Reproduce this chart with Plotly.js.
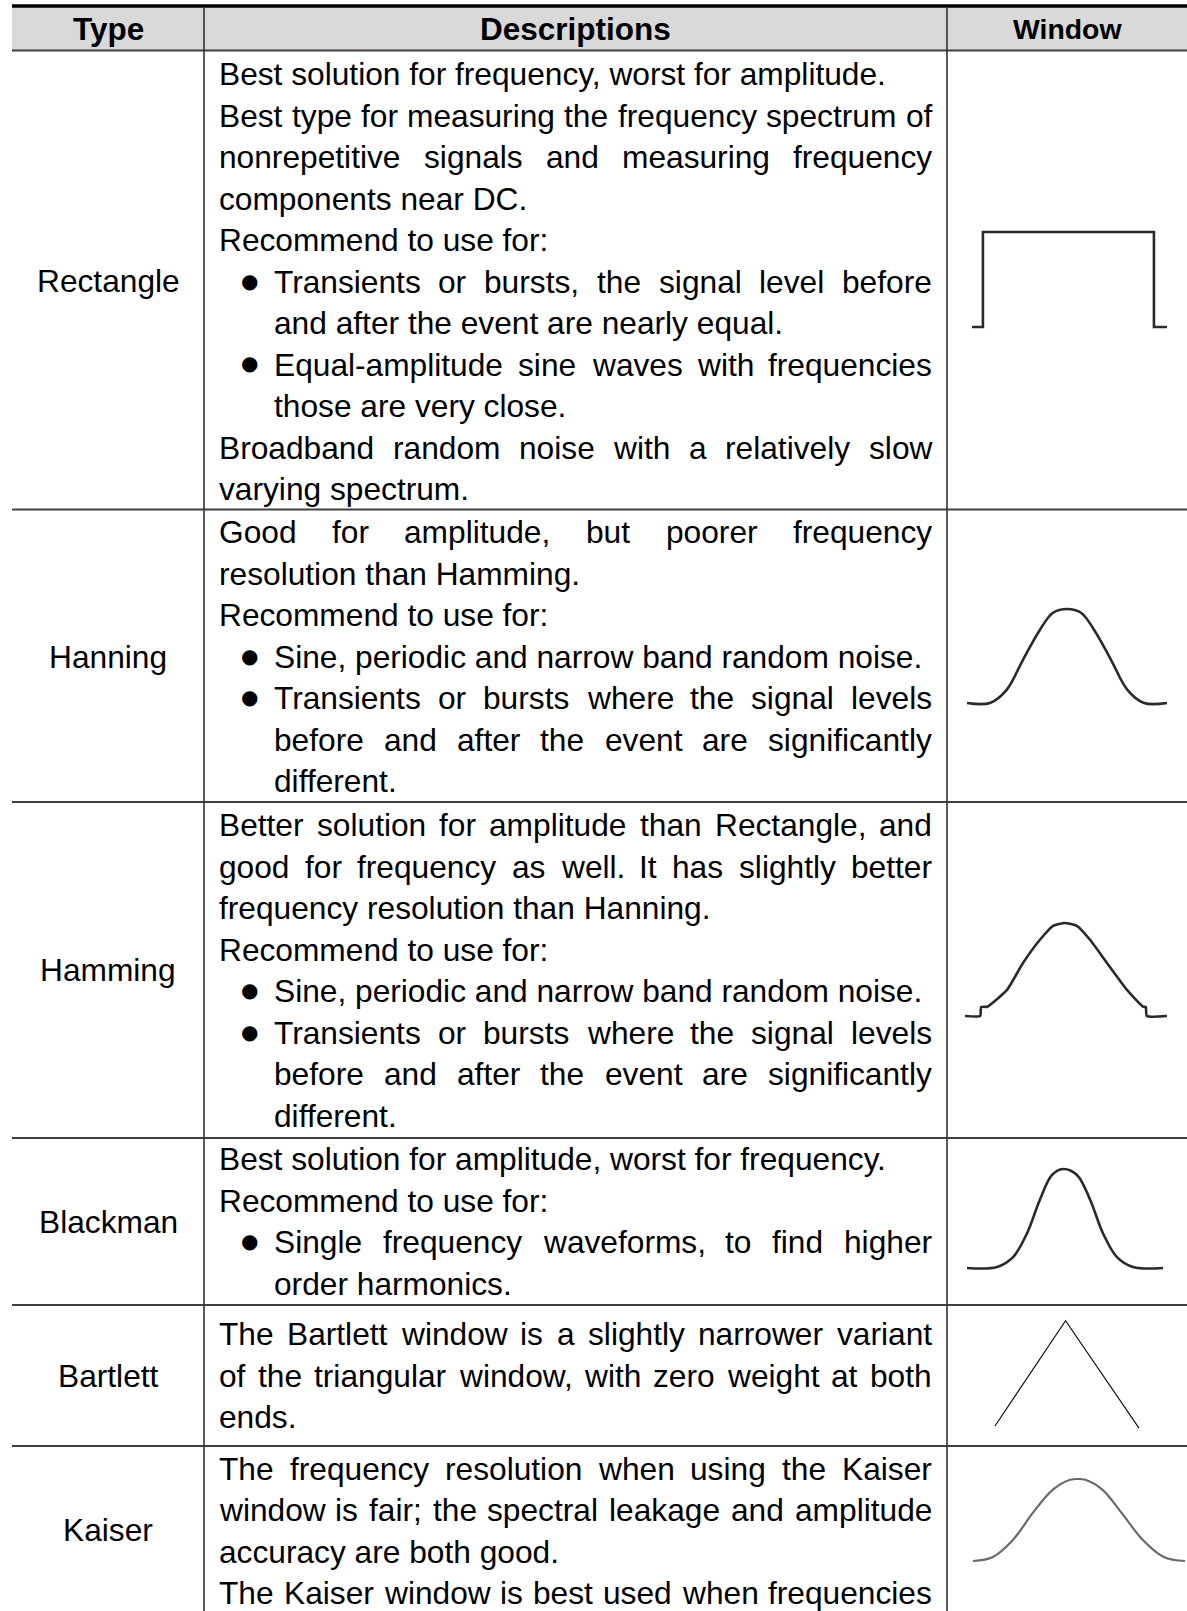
<!DOCTYPE html>
<html><head><meta charset="utf-8">
<script src="https://cdn.plot.ly/plotly-3.0.1.min.js"></script>
<style>html,body{margin:0;padding:0;background:#fff}#chart{width:1187px;height:1611px}</style>
</head><body><div id="chart"></div>
<script>
// ---------------- DATA ----------------
const headers = ["Type", "Descriptions", "Window"];
const types = ["Rectangle", "Hanning", "Hamming", "Blackman", "Bartlett", "Kaiser"];

const descRectangle = [
  "Best solution for frequency, worst for amplitude.",
  "Best type for measuring the frequency spectrum of",
  "nonrepetitive signals and measuring frequency",
  "components near DC.",
  "Recommend to use for:",
  "Transients or bursts, the signal level before",
  "and after the event are nearly equal.",
  "Equal-amplitude sine waves with frequencies",
  "those are very close.",
  "Broadband random noise with a relatively slow",
  "varying spectrum."
];
const descHanning = [
  "Good for amplitude, but poorer frequency",
  "resolution than Hamming.",
  "Recommend to use for:",
  "Sine, periodic and narrow band random noise.",
  "Transients or bursts where the signal levels",
  "before and after the event are significantly",
  "different."
];
const descHamming = [
  "Better solution for amplitude than Rectangle, and",
  "good for frequency as well. It has slightly better",
  "frequency resolution than Hanning.",
  "Recommend to use for:",
  "Sine, periodic and narrow band random noise.",
  "Transients or bursts where the signal levels",
  "before and after the event are significantly",
  "different."
];
const descBlackman = [
  "Best solution for amplitude, worst for frequency.",
  "Recommend to use for:",
  "Single frequency waveforms, to find higher",
  "order harmonics."
];
const descBartlett = [
  "The Bartlett window is a slightly narrower variant",
  "of the triangular window, with zero weight at both",
  "ends."
];
const descKaiser = [
  "The frequency resolution when using the Kaiser",
  "window is fair; the spectral leakage and amplitude",
  "accuracy are both good.",
  "The Kaiser window is best used when frequencies"
];

// window shapes: position across the drawing (0..1) and amplitude (0..1)
const rectX = [0, 0.056, 0.056, 0.933, 0.933, 1];
const rectY = [0, 0, 1, 1, 0, 0];
const hannX = [0, 0.115, 0.198, 0.28, 0.365, 0.43, 0.5, 0.57, 0.635, 0.72, 0.802, 0.885, 1];
const hannY = [0, 0, 0.14, 0.46, 0.78, 0.96, 1, 0.96, 0.78, 0.46, 0.14, 0, 0];
const hammX = [0, 0.075, 0.08, 0.11, 0.208, 0.287, 0.371, 0.436, 0.495, 0.554, 0.619, 0.703, 0.802, 0.881, 0.895, 0.9, 1];
const hammY = [0, 0, 0.097, 0.1, 0.28, 0.57, 0.82, 0.97, 1, 0.97, 0.82, 0.57, 0.28, 0.1, 0.097, 0, 0];
const blackX = [0, 0.153, 0.235, 0.306, 0.372, 0.434, 0.49, 0.561, 0.628, 0.694, 0.765, 0.847, 1];
const blackY = [0, 0.01, 0.11, 0.35, 0.69, 0.94, 1, 0.94, 0.69, 0.35, 0.11, 0.01, 0];
const bartX = [0, 0.49, 1];
const bartY = [0, 1, -0.02];
const kaisX = [0, 0.094, 0.189, 0.283, 0.377, 0.458, 0.495, 0.53, 0.61, 0.70, 0.80, 0.90, 1];
const kaisY = [0, 0.05, 0.26, 0.59, 0.87, 0.99, 1, 0.99, 0.87, 0.59, 0.26, 0.05, 0];

// ---------------- LAYOUT / STYLE ----------------
const W = 1187, H = 1611;
const px = x => x / W;
const py = y => 1 - y / H;
const FONT = "Liberation Sans, Arial, sans-serif";
const BODY = 31.7;

const descs = [descRectangle, descHanning, descHamming, descBlackman, descBartlett, descKaiser];
const lineKinds = [
  ["l","j","j","l","l","bj","il","bj","il","j","l"],
  ["j","l","l","bl","bj","ij","il"],
  ["j","j","l","l","bl","bj","ij","il"],
  ["l","l","bj","il"],
  ["j","j","l"],
  ["j","j","l","j"]
];
const rowBorders = [509.5, 802, 1138, 1305, 1446];
const firstLineY = [74, 532.3, 825.3, 1159.2, 1334, 1468.6];
const typeY = [280.6, 656.7, 970, 1222, 1376, 1530];
const PITCH = 41.5;
const TXT_L = 219, TXT_IND = 274, TXT_R = 932, BULLET_X = 250;
const winBoxes = [
  [972, 1167, 327, 232],
  [967, 1167, 703, 609],
  [965, 1167, 1016, 923],
  [967, 1163, 1268, 1169],
  [995, 1139, 1426, 1320.7],
  [973, 1185, 1561, 1479]
];
const winData = [[rectX, rectY], [hannX, hannY], [hammX, hammY], [blackX, blackY], [bartX, bartY], [kaisX, kaisY]];
const winStyle = [
  {color: "#2a2a2a", width: 2.6, shape: "linear"},
  {color: "#2a2a2a", width: 2.6, shape: "spline", smoothing: 1},
  {color: "#2a2a2a", width: 2.6, shape: "spline", smoothing: 0.5},
  {color: "#2a2a2a", width: 2.6, shape: "spline", smoothing: 1},
  {color: "#111111", width: 1.2, shape: "linear"},
  {color: "#6a6a6a", width: 2.2, shape: "spline", smoothing: 1}
];

const ctx = document.createElement("canvas").getContext("2d");
ctx.font = BODY + 'px "Liberation Sans"';
const measure = t => ctx.measureText(t).width;

const annotations = [];
const shapes = [];

function addText(text, x, y, opts) {
  annotations.push(Object.assign({
    text: text, x: px(x), y: py(y), xref: "paper", yref: "paper",
    xanchor: "left", yanchor: "middle", showarrow: false,
    borderpad: 0, borderwidth: 0,
    font: {family: FONT, size: BODY, color: "#000"}
  }, opts || {}));
}

function addLine(text, kind, y) {
  const bullet = kind[0] === "b", indent = kind[0] === "i";
  const justify = kind[kind.length - 1] === "j";
  const left = (bullet || indent) ? TXT_IND : TXT_L;
  if (bullet) {
    addText("●", BULLET_X, y - 1, {xanchor: "center", font: {family: "DejaVu Sans", size: 20, color: "#000"}});
  }
  if (!justify) { addText(text, left, y); return; }
  const words = text.split(" ");
  const widths = words.map(measure);
  const total = widths.reduce((a, b) => a + b, 0);
  const gap = (TXT_R - left - total) / (words.length - 1);
  let x = left;
  words.forEach((w, i) => { addText(w, x, y); x += widths[i] + gap; });
}

// header
shapes.push({type: "rect", xref: "paper", yref: "paper", x0: px(12), x1: px(W), y0: py(50), y1: py(7),
  fillcolor: "#d9d9d9", line: {width: 0}, layer: "below"});
shapes.push({type: "line", xref: "paper", yref: "paper", x0: px(12), x1: px(W), y0: py(6), y1: py(6),
  line: {color: "#000", width: 3.5}});
shapes.push({type: "line", xref: "paper", yref: "paper", x0: px(12), x1: px(W), y0: py(50.5), y1: py(50.5),
  line: {color: "#404040", width: 2}});
// row borders
rowBorders.forEach(y => shapes.push({type: "line", xref: "paper", yref: "paper", x0: px(12), x1: px(W), y0: py(y), y1: py(y),
  line: {color: "#404040", width: 1.8}}));
// column separators
[204, 947].forEach(x => shapes.push({type: "line", xref: "paper", yref: "paper", x0: px(x), x1: px(x), y0: py(8), y1: py(H),
  line: {color: "#333", width: 1.6}}));

addText(headers[0], 108, 29.5, {xanchor: "center", font: {family: FONT, size: 31.5, color: "#000", weight: "bold"}});
addText(headers[1], 575.5, 29.5, {xanchor: "center", font: {family: FONT, size: 31.5, color: "#000", weight: "bold"}});
addText(headers[2], 1067, 29.5, {xanchor: "center", font: {family: FONT, size: 28.4, color: "#000", weight: "bold"}});

types.forEach((t, r) => {
  addText(t, 108, typeY[r], {xanchor: "center"});
  descs[r].forEach((line, i) => addLine(line, lineKinds[r][i], firstLineY[r] + i * PITCH));
});

const traces = [];
const layout = {
  width: W, height: H, margin: {l: 0, r: 0, t: 0, b: 0},
  paper_bgcolor: "#fff", plot_bgcolor: "rgba(0,0,0,0)", showlegend: false,
  shapes: shapes, annotations: annotations
};
winBoxes.forEach((b, i) => {
  const [x0, x1, yb, yp] = b;
  const w = x1 - x0, h = yb - yp, padX = 2, padY = 5;
  const n = i + 2;
  layout["xaxis" + n] = {domain: [Math.max(0, (x0 - padX) / W), Math.min(1, (x1 + padX) / W)],
    range: [-padX / w, 1 + padX / w], visible: false, fixedrange: true, anchor: "y" + n};
  layout["yaxis" + n] = {domain: [Math.max(0, 1 - (yb + padY) / H), Math.min(1, 1 - (yp - padY) / H)],
    range: [-padY / h, 1 + padY / h], visible: false, fixedrange: true, anchor: "x" + n};
  const st = winStyle[i];
  traces.push({type: "scatter", mode: "lines", x: winData[i][0], y: winData[i][1],
    xaxis: "x" + n, yaxis: "y" + n, hoverinfo: "skip",
    line: {color: st.color, width: st.width, shape: st.shape, smoothing: st.smoothing}});
});

Plotly.newPlot("chart", traces, layout, {staticPlot: true, displayModeBar: false});
</script>
</body></html>
